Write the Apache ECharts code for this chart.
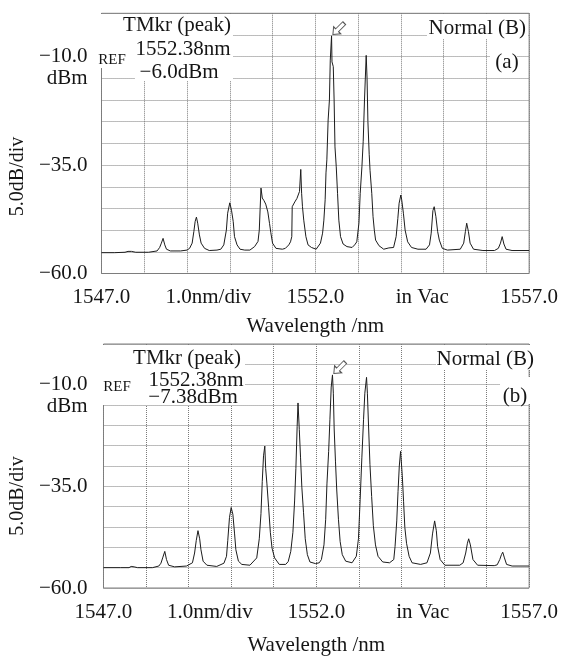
<!DOCTYPE html>
<html><head><meta charset="utf-8">
<script src="https://cdn.jsdelivr.net/npm/echarts@6/dist/echarts.min.js"></script>
<style>html,body{margin:0;padding:0;background:#fff}#c{width:561px;height:657px}</style>
</head><body><div id="c"></div>
<script>
// ---- Panel (a) trace: wavelength (nm) / power (dBm)
const wavelengthA = [1547.00,1547.30,1547.55,1547.62,1547.66,1547.70,1547.80,1548.10,1548.30,1548.36,1548.40,1548.44,1548.48,1548.52,1548.61,1548.85,
1549.00,1549.06,1549.12,1549.16,1549.19,1549.22,1549.25,1549.29,1549.33,1549.41,1549.52,1549.70,1549.79,1549.86,1549.92,1549.95,1550.00,1550.04,1550.08,1550.11,1550.17,1550.24,1550.35,
1550.47,1550.58,1550.66,1550.69,1550.71,1550.73,1550.76,1550.80,1550.84,1550.89,1550.93,1550.96,1551.00,1551.08,1551.23,1551.30,1551.38,1551.42,1551.45,1551.46,1551.52,1551.57,1551.63,1551.66,1551.68,1551.70,1551.73,1551.78,1551.83,1551.91,
1552.02,1552.06,1552.12,1552.17,1552.20,1552.23,1552.25,1552.27,1552.30,1552.33,1552.35,1552.38,1552.39,1552.42,1552.44,1552.46,1552.49,1552.52,1552.55,1552.59,1552.65,1552.74,1552.86,
1552.92,1552.97,1553.02,1553.05,1553.09,1553.12,1553.15,1553.19,1553.21,1553.23,1553.26,1553.28,1553.32,1553.35,1553.38,1553.41,1553.49,1553.60,1553.72,1553.83,
1553.89,1553.93,1553.96,1554.00,1554.02,1554.06,1554.10,1554.16,1554.25,1554.40,1554.59,1554.67,1554.71,1554.75,1554.78,1554.82,1554.86,1554.90,1554.97,1555.09,
1555.39,1555.47,1555.51,1555.54,1555.58,1555.62,1555.70,1555.92,1556.19,1556.28,1556.33,1556.37,1556.41,1556.46,1556.60,1557.00];
const powerA = [-55.2,-55.2,-55.1,-54.9,-54.6,-54.9,-55.1,-55.1,-54.8,-54.0,-53.0,-51.9,-53.4,-54.4,-54.8,-54.8,
-54.6,-54.2,-53.0,-50.3,-48.0,-47.0,-48.4,-51.1,-53.0,-54.2,-54.7,-54.6,-54.4,-53.4,-50.0,-46.1,-43.7,-45.4,-48.0,-51.5,-53.4,-54.4,-54.6,
-54.6,-53.8,-52.6,-50.0,-45.0,-40.3,-42.6,-43.2,-44.0,-45.8,-48.5,-50.6,-53.0,-54.2,-54.4,-54.2,-53.4,-52.7,-51.5,-44.6,-43.5,-42.7,-41.1,-36.0,-41.5,-44.6,-47.7,-51.5,-53.4,-54.0,
-54.4,-54.1,-53.0,-50.7,-47.7,-43.0,-36.8,-33.8,-24.6,-20.0,-10.8,-5.2,-11.2,-12.3,-20.0,-30.8,-35.4,-41.5,-47.7,-51.5,-53.2,-53.8,-54.0,
-53.4,-52.7,-48.4,-41.5,-35.4,-29.5,-20.0,-9.7,-15.0,-25.0,-32.5,-36.2,-41.5,-46.9,-50.0,-52.3,-53.6,-54.4,-54.1,-54.0,
-51.5,-47.3,-43.8,-41.9,-43.0,-46.1,-50.0,-52.7,-54.0,-54.4,-54.4,-53.4,-50.7,-45.5,-44.6,-46.9,-50.3,-52.3,-54.2,-54.6,
-54.4,-53.0,-50.3,-48.4,-50.3,-53.0,-54.4,-54.7,-54.7,-54.2,-53.0,-51.5,-53.2,-54.4,-54.7,-54.7];

// ---- Panel (b) trace
const wavelengthB = [1547.00,1547.40,1547.60,1547.65,1547.68,1547.72,1547.80,1548.15,1548.30,1548.35,1548.39,1548.44,1548.48,1548.53,1548.67,1548.95,
1549.09,1549.14,1549.18,1549.22,1549.26,1549.29,1549.34,1549.43,1549.66,1549.83,1549.89,1549.92,1549.96,1550.00,1550.04,1550.08,1550.11,1550.17,1550.25,1550.44,
1550.60,1550.66,1550.70,1550.73,1550.76,1550.79,1550.81,1550.84,1550.88,1550.92,1550.96,1551.02,1551.13,1551.28,1551.34,1551.40,1551.45,1551.49,1551.52,1551.55,1551.57,1551.60,1551.63,1551.66,1551.70,1551.74,1551.79,1551.85,1551.98,
1552.07,1552.12,1552.18,1552.22,1552.25,1552.29,1552.32,1552.35,1552.38,1552.40,1552.42,1552.45,1552.48,1552.52,1552.56,1552.61,1552.69,1552.84,
1552.94,1552.99,1553.03,1553.07,1553.11,1553.14,1553.18,1553.20,1553.23,1553.26,1553.30,1553.34,1553.39,1553.45,1553.56,1553.72,
1553.82,1553.85,1553.89,1553.92,1553.95,1553.98,1554.02,1554.05,1554.08,1554.12,1554.18,1554.25,1554.45,1554.60,1554.68,1554.73,1554.78,1554.82,1554.85,1554.91,1555.02,
1555.37,1555.45,1555.51,1555.55,1555.58,1555.62,1555.68,1555.79,1556.18,1556.25,1556.31,1556.35,1556.38,1556.42,1556.47,1556.60,1557.00];
const powerB = [-55.0,-55.0,-55.0,-54.7,-54.5,-54.8,-55.0,-55.0,-54.6,-53.9,-52.6,-51.0,-53.0,-54.4,-54.8,-54.6,
-53.8,-51.4,-48.3,-45.9,-47.9,-50.6,-53.4,-54.4,-54.7,-53.9,-52.2,-48.3,-42.7,-40.2,-41.9,-46.7,-50.6,-53.4,-54.2,-54.4,
-52.6,-47.9,-41.7,-33.8,-27.5,-25.1,-30.6,-34.4,-40.2,-46.3,-50.2,-52.6,-54.2,-54.2,-53.5,-51.0,-46.3,-38.6,-30.6,-20.3,-14.5,-21.0,-28.0,-35.2,-41.5,-47.9,-51.8,-53.6,-54.0,
-53.8,-53.0,-49.4,-43.1,-34.4,-26.4,-18.5,-10.6,-7.6,-12.1,-20.9,-28.8,-35.9,-43.1,-48.6,-51.8,-53.4,-53.8,
-52.2,-47.9,-38.3,-28.0,-18.5,-12.1,-8.2,-12.1,-20.9,-29.6,-37.5,-44.7,-49.4,-52.2,-53.6,-53.8,
-53.0,-49.8,-43.5,-36.3,-30.0,-26.4,-32.4,-38.7,-45.1,-49.0,-52.2,-53.8,-54.2,-53.8,-51.4,-46.7,-43.5,-45.9,-49.8,-53.0,-54.4,
-54.4,-53.8,-51.4,-49.0,-47.9,-49.4,-53.0,-54.4,-54.5,-54.3,-53.0,-51.8,-51.2,-52.6,-54.2,-54.6,-54.6];

// ---- Tick labels and annotation texts
const xTickValues = [1547, 1549.5, 1552, 1554.5, 1557];
const xTickLabels = ['1547.0', '1.0nm/div', '1552.0', 'in Vac', '1557.0'];
const yTickValues = [-10, -35, -60];
const yTickLabels = ['−10.0', '−35.0', '−60.0'];
const yRefUnit = 'dBm';
const xName = 'Wavelength /nm';
const yName = '5.0dB/div';
const markerTextA = ['TMkr (peak)', '1552.38nm', '−6.0dBm'];
const markerTextB = ['TMkr (peak)', '1552.38nm', '−7.38dBm'];
const refText = 'REF';
const modeText = 'Normal (B)';
const panelTags = ['(a)', '(b)'];

const FONT = '"Liberation Serif", "Times New Roman", serif';
const TXT = '#151515';

function zip(xs, ys) { return xs.map((x, i) => [x, ys[i]]); }
function peakOf(xs, ys) { let k = 0; ys.forEach((v, i) => { if (v > ys[k]) k = i; }); return [xs[k], ys[k]]; }

function xLabel(v) { const i = xTickValues.findIndex(t => Math.abs(t - v) < 1e-6); return i < 0 ? '' : xTickLabels[i]; }
function yLabel(v) {
  const i = yTickValues.findIndex(t => Math.abs(t - v) < 1e-6);
  if (i < 0) return '';
  return i === 0 ? ' \n' + yTickLabels[i] + '\n' + yRefUnit : yTickLabels[i];
}

function xAxis(gi, margin, nameGap) {
  return {
    type: 'value', gridIndex: gi, min: 1547, max: 1557, interval: 1,
    axisLine: { show: false }, axisTick: { show: false },
    splitLine: { show: true, lineStyle: { color: '#7a7a7a', width: 1, type: [1, 1] } },
    axisLabel: { customValues: xTickValues, formatter: xLabel, margin: margin, fontFamily: FONT, fontSize: 21, color: TXT },
    name: xName, nameLocation: 'middle', nameGap: nameGap,
    nameTextStyle: { fontFamily: FONT, fontSize: 21, color: TXT }
  };
}
function yAxis(gi, margin, nameGap, shift) {
  return {
    type: 'value', gridIndex: gi, min: -60, max: 0, interval: 5,
    axisLine: { show: false }, axisTick: { show: false },
    splitLine: { show: true, lineStyle: { color: '#7a7a7a', width: 1, type: [1, 1] } },
    axisLabel: { customValues: yTickValues, formatter: yLabel, margin: margin, fontFamily: FONT, fontSize: 21, lineHeight: 22, color: TXT, align: 'right' },
    name: yName, nameLocation: 'middle', nameGap: nameGap,
    nameTextStyle: { fontFamily: FONT, fontSize: 20, color: TXT, padding: [0, shift, 0, 0] }
  };
}

const arrowPath = 'path://M0,5 L6,0 L6,3 L16,3 L16,7 L6,7 L6,10 Z';
function series(gi, xs, ys) {
  return {
    type: 'line', xAxisIndex: gi, yAxisIndex: gi, data: zip(xs, ys),
    showSymbol: false, symbol: 'none', silent: true,
    lineStyle: { color: '#1c1c1c', width: 1 },
    markPoint: {
      symbol: arrowPath, symbolSize: [16, 10], symbolRotate: 45, symbolOffset: [7, -7],
      itemStyle: { color: '#fff', borderColor: '#555', borderWidth: 1 },
      label: { show: false },
      data: [{ coord: peakOf(xs, ys) }]
    }
  };
}

function rect(x1, y1, x2, y2) {
  return { type: 'rect', z: 50, shape: { x: x1, y: y1, width: x2 - x1, height: y2 - y1 }, style: { fill: '#fff' } };
}
function text(str, x, y, size, align) {
  return { type: 'text', z: 60, style: { text: str, x: x, y: y, textAlign: align || 'center', textVerticalAlign: 'middle', font: size + 'px ' + FONT, fill: TXT } };
}

const graphics = [
  // panel (a)
  rect(96.5, 14, 233, 68), rect(135, 67, 233, 81), rect(427, 14, 528, 39), rect(490, 47, 517, 70),
  text(markerTextA[0], 177, 25, 21), text(markerTextA[1], 183, 49, 21), text(markerTextA[2], 179, 72, 21),
  text(refText, 112, 60, 15), text(modeText, 526, 28.5, 21, 'right'), text(panelTags[0], 507, 62, 21),
  // panel (b)
  rect(101, 345, 245, 405), rect(436, 345, 534, 370), rect(500, 377, 530, 404),
  text(markerTextB[0], 187, 358, 21), text(markerTextB[1], 196, 380, 21), text(markerTextB[2], 193, 397.5, 21),
  text(refText, 117, 387, 15), text(modeText, 534, 359, 21, 'right'), text(panelTags[1], 515, 396, 21)
];

const chart = echarts.init(document.getElementById('c'), null, { renderer: 'canvas' });
chart.setOption({
  backgroundColor: '#fff',
  animation: false,
  grid: [
    { left: 95.5, top: 13.3, width: 434, height: 260.2, show: true, borderColor: '#808080', borderWidth: 1, backgroundColor: 'transparent' },
    { left: 100, top: 344, width: 436, height: 252, show: true, borderColor: '#808080', borderWidth: 1, backgroundColor: 'transparent' }
  ],
  xAxis: [xAxis(0, 13, 42), xAxis(1, 14, 47)],
  yAxis: [yAxis(0, 14, 70, 66), yAxis(1, 16, 74, 60)],
  series: [series(0, wavelengthA, powerA), series(1, wavelengthB, powerB)],
  graphic: { elements: graphics }
});
</script></body></html>
